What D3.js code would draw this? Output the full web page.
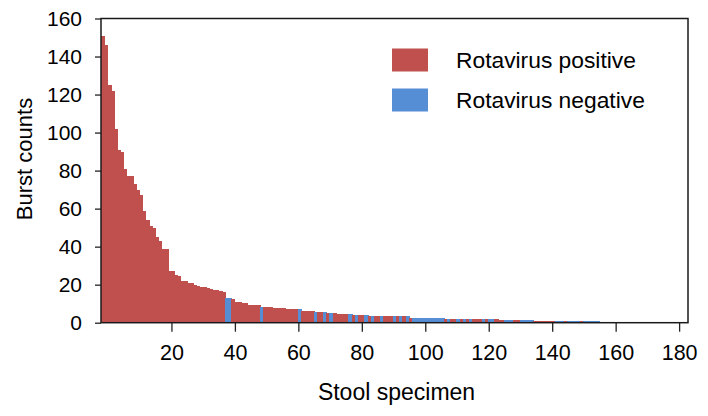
<!DOCTYPE html>
<html>
<head>
<meta charset="utf-8">
<script src="https://cdn.jsdelivr.net/npm/d3@7"></script>
<style>
  html, body { margin: 0; padding: 0; background: #fff; }
  svg { display: block; font-family: "Liberation Sans", Arial, sans-serif; }
</style>
</head>
<body>
<svg id="chart" width="708" height="416"></svg>
<script>
// ---------------- data ----------------
const burstCounts = [
  151, 146, 125, 122, 102, 91, 90, 81, 77, 77,
  73, 70, 67, 59, 54, 51, 50, 45, 43, 39,
  39, 27, 27, 25, 24.5, 22, 22, 21, 21, 20,
  19.5, 19, 18.6, 18, 17.5, 17.4, 17, 16.5, 16, 12.8,
  12.8, 12.3, 11, 11, 10.2, 10.2, 9.3, 9.3, 9.3, 9.3,
  8.4, 8.4, 8.4, 8.4, 7.8, 7.8, 7.8, 7.8, 7.4, 7.4,
  7.4, 7.4, 7.4, 6.2, 6.2, 6.2, 6.2, 5.5, 5.5, 5.5,
  5.5, 5.3, 5.2, 5.1, 4.6, 4.6, 4.6, 4.6, 4.6, 4.0,
  4.0, 4.0, 4.0, 4.0, 3.4, 3.4, 3.4, 3.4, 3.4, 3.4,
  3.4, 3.4, 3.4, 3.4, 3.4, 3.4, 3.4, 2.6, 2.6, 2.6,
  2.6, 2.6, 2.6, 2.6, 2.6, 2.6, 2.6, 2.6, 2.0, 2.0,
  2.0, 2.0, 2.0, 2.0, 2.0, 2.0, 2.0, 2.0, 2.0, 2.0,
  2.0, 2.0, 2.0, 2.0, 2.0, 1.4, 1.4, 1.4, 1.4, 1.4,
  1.4, 1.4, 1.4, 1.4, 1.4, 1.4, 0.9, 0.9, 0.9, 0.9,
  0.9, 0.9, 0.9, 0.9, 0.9, 0.9, 0.9, 0.9, 0.9, 0.9,
  0.9, 0.9, 0.9, 0.9, 0.9, 0.9, 0.9, 0.45, 0.45, 0.45,
  0.45, 0.45, 0.45, 0.45, 0.45, 0.45, 0.45, 0.45, 0.45, 0.45,
  0.45, 0.45, 0.45, 0.45, 0.45, 0.45, 0.45, 0.45, 0.45, 0.45
];
// "P" = rotavirus positive, "N" = rotavirus negative
const rotavirusStatus = (
  "PPPPPPPPPP" + "PPPPPPPPPP" + "PPPPPPPPPP" + "PPPPPPPPPN" +
  "NPPPPPPPPP" + "NPPPPPPPPP" + "PPNPPPPNPP" + "NPNPPPPPNP" +
  "NPPNPNPPNP" + "PPNPNPNPNN" + "NNNNNNNNPN" + "PPNPNPNPPP" +
  "NPNNPPPNNN" + "PPNNNNPPPP" + "PPPNNNPNNN" + "NPNNNNNNNN" +
  "NPPNNNPPNN" + "NPNNNPPNNP"
).split("");
const specimenIds = burstCounts.map((d, i) => i + 1);
const xTickValues = [20, 40, 60, 80, 100, 120, 140, 160, 180];
const yTickValues = [0, 20, 40, 60, 80, 100, 120, 140, 160];
const legendLabels = ["Rotavirus positive", "Rotavirus negative"];
const legendKeys = ["P", "N"];
const xTitle = "Stool specimen";
const yTitle = "Burst counts";

// ---------------- styles ----------------
const colorOf = { P: "#C0504D", N: "#558ED5" };
const plot = { left: 101, right: 688, top: 18.5, bottom: 322.7 };
const totalSlots = 185;

const svg = d3.select("#chart");

const xBand = d3.scaleBand()
  .domain(d3.range(1, totalSlots + 1))
  .range([plot.left, plot.right])
  .padding(0);
const xAxisScale = d3.scaleLinear()
  .domain([-2.2, totalSlots - 2.2])
  .range([plot.left, plot.right]);
const y = d3.scaleLinear().domain([0, 160]).range([plot.bottom, plot.top]);

// bars
svg.append("g")
  .attr("shape-rendering", "crispEdges")
  .selectAll("rect")
  .data(specimenIds)
  .join("rect")
  .attr("x", d => xBand(d))
  .attr("width", xBand.bandwidth() + 1)
  .attr("y", d => y(burstCounts[d - 1]))
  .attr("height", d => y(0) - y(burstCounts[d - 1]))
  .attr("fill", d => colorOf[rotavirusStatus[d - 1]]);

// y axis
const yAxis = svg.append("g")
  .attr("transform", `translate(${plot.left},0)`)
  .call(d3.axisLeft(y).tickValues(yTickValues).tickSize(6).tickPadding(13));
yAxis.select(".domain").remove();
yAxis.selectAll("line").attr("stroke", "#222").attr("stroke-width", 1.3);
yAxis.selectAll("text").attr("font-size", 21).attr("fill", "#000")
  .attr("font-family", "Liberation Sans, Arial, sans-serif");

// x axis
const xAxis = svg.append("g")
  .attr("transform", `translate(0,${plot.bottom})`)
  .call(d3.axisBottom(xAxisScale).tickValues(xTickValues).tickSize(9).tickPadding(13));
xAxis.select(".domain").remove();
xAxis.selectAll("line").attr("stroke", "#222").attr("stroke-width", 1.3);
xAxis.selectAll("text").attr("font-size", 21.5).attr("fill", "#000")
  .attr("font-family", "Liberation Sans, Arial, sans-serif");

// frame
svg.append("rect")
  .attr("x", plot.left).attr("y", plot.top)
  .attr("width", plot.right - plot.left)
  .attr("height", plot.bottom - plot.top)
  .attr("fill", "none").attr("stroke", "#1a1a1a").attr("stroke-width", 1.5);

// titles
svg.append("text")
  .attr("x", (plot.left + plot.right) / 2 + 2).attr("y", 400)
  .attr("text-anchor", "middle").attr("font-size", 23).attr("fill", "#000")
  .text(xTitle);
svg.append("text")
  .attr("transform", "translate(31.5,159) rotate(-90)")
  .attr("text-anchor", "middle").attr("font-size", 22).attr("fill", "#000")
  .text(yTitle);

// legend
const legend = svg.append("g");
legendKeys.forEach((k, i) => {
  legend.append("rect")
    .attr("x", 392).attr("y", 48.5 + i * 40)
    .attr("width", 36).attr("height", 23)
    .attr("fill", colorOf[k]);
  legend.append("text")
    .attr("x", 456).attr("y", 67.5 + i * 40)
    .attr("font-size", 22.8).attr("fill", "#000")
    .text(legendLabels[i]);
});
</script>
</body>
</html>
